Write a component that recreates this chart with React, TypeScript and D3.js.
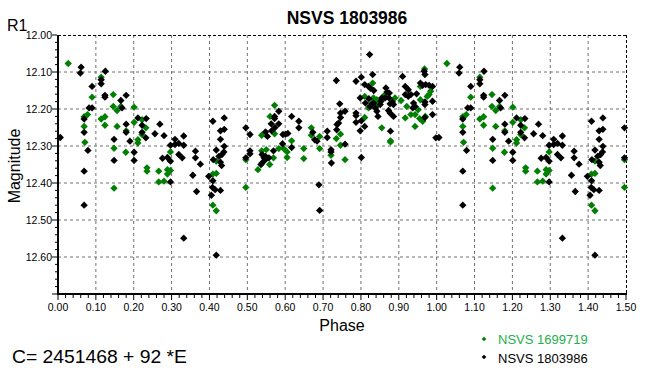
import React from "react";
import * as d3 from "d3";

const xTicks = [0, 0.1, 0.2, 0.3, 0.4, 0.5, 0.6, 0.7, 0.8, 0.9, 1.0, 1.1, 1.2, 1.3, 1.4, 1.5];
const yTicks = [12.0, 12.1, 12.2, 12.3, 12.4, 12.5, 12.6];

const seriesNames = ["NSVS 1699719", "NSVS 1803986"];

const greenPhase = [
  0.027, 0.114, 0.090, 0.146, 0.146, 0.166, 0.156, 0.201, 0.069, 0.078, 0.069, 0.114, 0.124, 0.124, 0.156,
  0.180, 0.201, 0.222, 0.232, 0.211, 0.211, 0.222, 0.071, 0.148, 0.179, 0.235, 0.235, 0.266, 0.289, 0.297,
  0.289, 0.297, 0.266, 0.280, 0.148, 0.418, 0.409, 0.418, 0.409, 0.418, 0.496, 0.496, 0.528, 0.538, 0.538,
  0.550, 0.559, 0.569, 0.572, 0.560, 0.572, 0.583, 0.596, 0.605, 0.605, 0.617, 0.649, 0.649, 0.669, 0.669,
  0.691, 0.691, 0.721, 0.735, 0.746, 0.746, 0.758, 0.810, 0.810, 0.831, 0.820, 0.833, 0.838, 0.829, 0.842,
  0.846, 0.855, 0.878, 0.878, 0.864, 0.890, 0.906, 0.917, 0.921, 0.932, 0.943, 0.951, 0.943, 0.957, 0.957,
  0.968, 0.970, 0.963, 0.955, 0.975, 0.980, 0.984,
];
const greenMag = [
  12.077, 12.114, 12.168, 12.161, 12.193, 12.193, 12.204, 12.195, 12.221, 12.215, 12.247, 12.227, 12.221, 12.244, 12.247,
  12.259, 12.236, 12.229, 12.251, 12.283, 12.292, 12.269, 12.290, 12.306, 12.317, 12.359, 12.368, 12.368, 12.364, 12.366,
  12.376, 12.316, 12.397, 12.395, 12.414, 12.341, 12.376, 12.374, 12.460, 12.475, 12.412, 12.337, 12.364, 12.271, 12.313,
  12.310, 12.350, 12.332, 12.190, 12.220, 12.267, 12.307, 12.307, 12.316, 12.331, 12.286, 12.307, 12.334, 12.251, 12.271,
  12.274, 12.307, 12.325, 12.280, 12.268, 12.298, 12.337, 12.223, 12.166, 12.130, 12.197, 12.170, 12.179, 12.184, 12.175,
  12.188, 12.251, 12.286, 12.289, 12.161, 12.170, 12.177, 12.224, 12.193, 12.215, 12.215, 12.202, 12.247, 12.175, 12.139,
  12.092, 12.220, 12.233, 12.226, 12.166, 12.161, 12.152,
];

const blackPhase = [
  0.006, 0.061, 0.059, 0.090, 0.125, 0.114, 0.114, 0.124, 0.124, 0.180, 0.166, 0.169, 0.082, 0.090, 0.069,
  0.069, 0.079, 0.069, 0.069, 0.148, 0.148, 0.180, 0.180, 0.190, 0.201, 0.201, 0.211, 0.222, 0.233, 0.222,
  0.232, 0.256, 0.269, 0.280, 0.309, 0.297, 0.319, 0.332, 0.332, 0.309, 0.276, 0.289, 0.297, 0.319, 0.328,
  0.297, 0.363, 0.363, 0.376, 0.356, 0.366, 0.332, 0.409, 0.439, 0.429, 0.439, 0.429, 0.439, 0.418, 0.438,
  0.433, 0.425, 0.410, 0.429, 0.432, 0.398, 0.409, 0.408, 0.415, 0.429, 0.405, 0.418,
  0.496, 0.507, 0.507, 0.507, 0.496, 0.572, 0.572, 0.583, 0.563, 0.583, 0.573, 0.548, 0.553, 0.564, 0.594,
  0.601, 0.607, 0.593, 0.617, 0.636, 0.636, 0.617, 0.569, 0.539, 0.548, 0.557, 0.544, 0.539, 0.548, 0.536,
  0.673, 0.678, 0.684, 0.689, 0.691, 0.711, 0.711, 0.721, 0.721, 0.722, 0.735, 0.744, 0.746, 0.758, 0.746,
  0.741, 0.737, 0.736, 0.758, 0.787, 0.801, 0.823, 0.831, 0.798, 0.787, 0.787, 0.787, 0.801, 0.798, 0.810,
  0.801, 0.810, 0.820, 0.825, 0.834, 0.812, 0.821, 0.824, 0.833, 0.838, 0.842, 0.845, 0.851, 0.853, 0.855,
  0.866, 0.869, 0.875, 0.864, 0.874, 0.877, 0.883, 0.886, 0.873, 0.877, 0.886, 0.878, 0.910, 0.917, 0.925,
  0.932, 0.925, 0.917, 0.947, 0.939, 0.937, 0.943, 0.957, 0.963, 0.971, 0.980, 0.989, 0.967, 0.969, 0.969,
  0.969, 0.969, 0.989, 0.989, 0.998,
];
const blackMag = [
  12.277, 12.087, 12.103, 12.139, 12.098, 12.121, 12.132, 12.163, 12.168, 12.163, 12.177, 12.197, 12.197, 12.197, 12.227,
  12.263, 12.312, 12.368, 12.460, 12.282, 12.339, 12.241, 12.263, 12.287, 12.317, 12.339, 12.224, 12.244, 12.226, 12.263,
  12.278, 12.267, 12.241, 12.272, 12.282, 12.298, 12.293, 12.273, 12.298, 12.296, 12.333, 12.331, 12.341, 12.323, 12.332,
  12.397, 12.314, 12.332, 12.349, 12.379, 12.423, 12.549, 12.233, 12.224, 12.259, 12.255, 12.282, 12.301, 12.311, 12.316,
  12.323, 12.328, 12.337, 12.344, 12.353, 12.382, 12.394, 12.412, 12.418, 12.420, 12.433, 12.595,
  12.251, 12.269, 12.313, 12.321, 12.332, 12.220, 12.226, 12.206, 12.240, 12.240, 12.250, 12.262, 12.274, 12.259, 12.269,
  12.268, 12.266, 12.294, 12.220, 12.233, 12.251, 12.304, 12.313, 12.323, 12.328, 12.332, 12.332, 12.346, 12.337, 12.350,
  12.263, 12.283, 12.287, 12.405, 12.474, 12.260, 12.277, 12.310, 12.316, 12.346, 12.123, 12.186, 12.211, 12.206, 12.223,
  12.238, 12.242, 12.256, 12.295, 12.125, 12.114, 12.053, 12.107, 12.170, 12.211, 12.218, 12.236, 12.232, 12.259, 12.247,
  12.331, 12.134, 12.139, 12.144, 12.150, 12.184, 12.172, 12.193, 12.184, 12.197, 12.206, 12.220, 12.188, 12.179, 12.170,
  12.143, 12.154, 12.157, 12.170, 12.170, 12.186, 12.181, 12.188, 12.204, 12.211, 12.220, 12.260, 12.112, 12.139, 12.148,
  12.161, 12.166, 12.161, 12.159, 12.184, 12.197, 12.193, 12.130, 12.136, 12.134, 12.136, 12.139, 12.098, 12.107, 12.181,
  12.188, 12.223, 12.179, 12.215, 12.278,
];

const GREEN = "#008000";
const BLACK = "#000000";

const diamondType = {
  draw(context: any, size: number) {
    const r = Math.sqrt(size / 2);
    context.moveTo(0, -r);
    context.lineTo(r, 0);
    context.lineTo(0, r);
    context.lineTo(-r, 0);
    context.closePath();
  },
};

function foldPoints(phases: number[], mags: number[]) {
  const pts: { p: number; m: number }[] = [];
  phases.forEach((p, i) => {
    pts.push({ p, m: mags[i] });
    if (p + 1 <= 1.5) pts.push({ p: p + 1, m: mags[i] });
  });
  return pts;
}

export default function App() {
  const W = 656, H = 381;
  const x = d3.scaleLinear().domain([0, 1.5]).range([58, 626]);
  const y = d3.scaleLinear().domain([12.0, 12.7]).range([35, 294]);
  const sym = d3.symbol().type(diamondType as any).size(27)();
  const legSym = d3.symbol().type(diamondType as any).size(11)();
  const green = foldPoints(greenPhase, greenMag);
  const black = foldPoints(blackPhase, blackMag);
  const font = "'Liberation Sans', Arial, sans-serif";
  const minorX = d3.range(0, 1.5001, 0.02);
  const minorY = d3.range(12.0, 12.7001, 0.02);

  return (
    <svg width={W} height={H} style={{ position: "absolute", left: 0, top: 0, background: "#fff" }} fontFamily={font}>
      <rect x={0} y={0} width={W} height={H} fill="#fff" />
      {/* grid */}
      {xTicks.slice(1, -1).map((t) => (
        <line key={"gx" + t} x1={x(t)} x2={x(t)} y1={35} y2={294} stroke="#707070" strokeDasharray="3,3" />
      ))}
      {yTicks.slice(1).map((t) => (
        <line key={"gy" + t} x1={58} x2={626} y1={y(t)} y2={y(t)} stroke="#707070" strokeDasharray="3,3" />
      ))}
      {/* top & right dashed border */}
      <line x1={58} x2={626} y1={35.5} y2={35.5} stroke="#000" strokeDasharray="3,2" />
      <line x1={626.5} x2={626.5} y1={35} y2={294} stroke="#000" strokeDasharray="3,2" />
      {/* points */}
      {green.map((d, i) => (
        <path key={"g" + i} d={sym!} transform={`translate(${x(d.p)},${y(d.m)})`} fill={GREEN} />
      ))}
      {black.map((d, i) => (
        <path key={"b" + i} d={sym!} transform={`translate(${x(d.p)},${y(d.m)})`} fill={BLACK} />
      ))}
      {/* axes */}
      <line x1={58} x2={58} y1={35} y2={295} stroke="#000" strokeWidth={2} />
      <line x1={57} x2={627} y1={294} y2={294} stroke="#000" strokeWidth={2} />
      {minorX.map((t, i) => (
        <line key={"mx" + i} x1={x(t)} x2={x(t)} y1={295} y2={i % 5 === 0 ? 300 : 298} stroke="#000" />
      ))}
      {minorY.map((t, i) => (
        <line key={"my" + i} x1={i % 5 === 0 ? 52 : 55} x2={57} y1={y(t)} y2={y(t)} stroke="#000" />
      ))}
      {xTicks.map((t) => (
        <text key={"tx" + t} x={x(t)} y={311} fontSize={10.5} textAnchor="middle" fill="#000">
          {t.toFixed(2)}
        </text>
      ))}
      {yTicks.map((t) => (
        <text key={"ty" + t} x={52} y={y(t) + 4} fontSize={10.5} textAnchor="end" fill="#000">
          {t.toFixed(2)}
        </text>
      ))}
      {/* labels */}
      <text x={347} y={24} fontSize={17.5} fontWeight="bold" textAnchor="middle" fill="#000">NSVS 1803986</text>
      <text x={7} y={31} fontSize={16} fill="#000">R1</text>
      <text transform="translate(20,166) rotate(-90)" fontSize={16} textAnchor="middle" fill="#000">Magnitude</text>
      <text x={342} y={331} fontSize={16} textAnchor="middle" fill="#000">Phase</text>
      <text x={12} y={363} fontSize={19} fill="#000" textLength={175} lengthAdjust="spacingAndGlyphs">C= 2451468 + 92 *E</text>
      {/* legend */}
      <path d={legSym!} transform="translate(484,339)" fill={GREEN} />
      <text x={498} y={344} fontSize={13} fill="#22b04b">{seriesNames[0]}</text>
      <path d={legSym!} transform="translate(484,357)" fill={BLACK} />
      <text x={498} y={363} fontSize={13} fill="#000">{seriesNames[1]}</text>
    </svg>
  );
}
